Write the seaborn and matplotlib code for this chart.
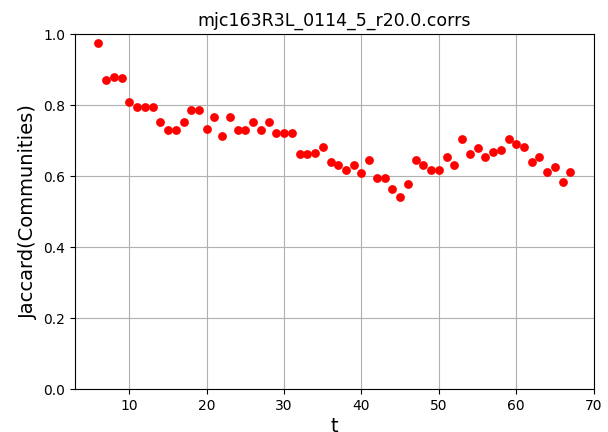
import pandas as pd
import seaborn as sns
import matplotlib
matplotlib.use("Agg")
import matplotlib.pyplot as plt

# time steps and jaccard values
t = list(range(6, 68))
jaccard = [0.976, 0.872, 0.878, 0.875, 0.810, 0.796, 0.796, 0.796, 0.751, 0.730,
           0.730, 0.751, 0.785, 0.785, 0.734, 0.766, 0.713, 0.766, 0.730, 0.730,
           0.751, 0.730, 0.751, 0.720, 0.720, 0.720, 0.661, 0.661, 0.666, 0.683,
           0.639, 0.631, 0.617, 0.631, 0.609, 0.644, 0.595, 0.595, 0.563, 0.542,
           0.577, 0.644, 0.631, 0.617, 0.617, 0.653, 0.631, 0.704, 0.661, 0.680,
           0.653, 0.667, 0.674, 0.704, 0.689, 0.683, 0.639, 0.653, 0.612, 0.625,
           0.582, 0.612]
title = "mjc163R3L_0114_5_r20.0.corrs"

df = pd.DataFrame({"t": t, "jaccard": jaccard})

fig, ax = plt.subplots(figsize=(6.08, 4.32), dpi=100)
fig.subplots_adjust(left=0.123, right=0.977, top=0.921, bottom=0.0995)

sns.scatterplot(data=df, x="t", y="jaccard", color="red", s=40, linewidth=0, ax=ax, zorder=3)
ax.grid(True)
ax.set_ylim(0, 1.0)
ax.set_xlabel("t", fontsize=14, labelpad=3)
ax.set_ylabel("Jaccard(Communities)", fontsize=14)
ax.set_title(title, fontsize=12.5)

plt.savefig("out.png", dpi=100)
